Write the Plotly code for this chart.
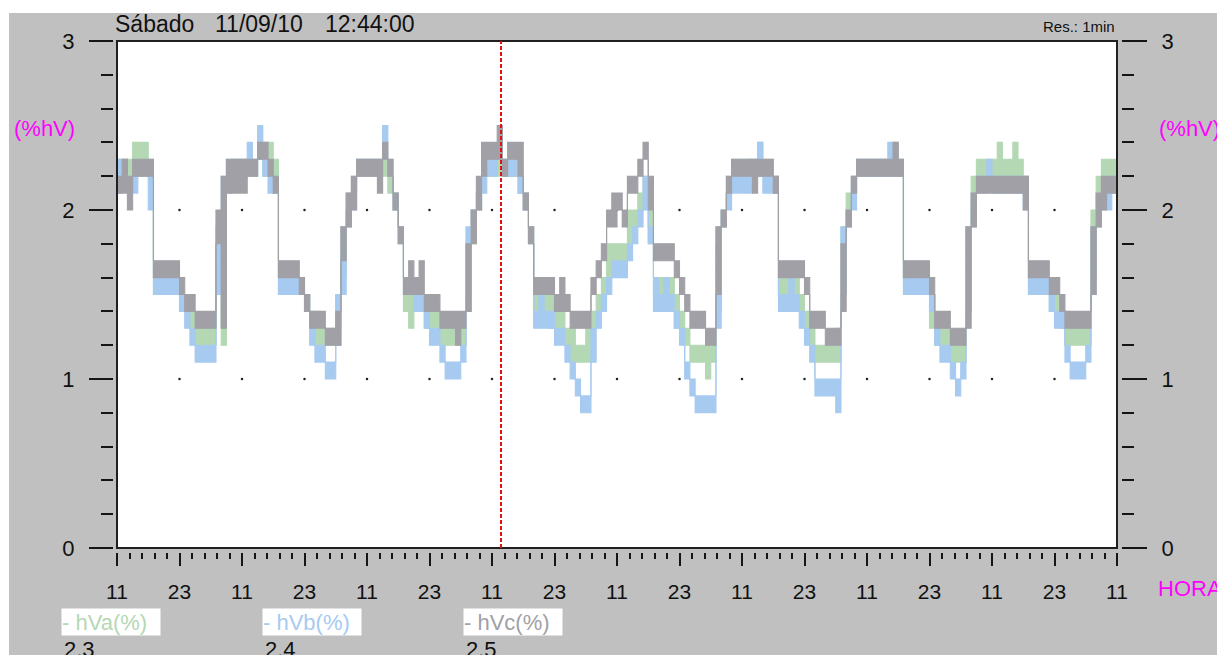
import pandas as pd
import plotly.graph_objects as go

# Time span of the recording (1-minute resolution, summarised per hour as min/max band)
START = "2010-09-08 11:00"
END = "2010-09-16 11:00"
CURSOR = "2010-09-11 12:44"

# Hourly band (lowest / highest value reached in each hour), one row per day, 11:00 -> 10:00
hVa_lo = [
    2.2,2.2,2.2,2.2,2.3,2.3,2.2,1.5,1.5,1.5,1.5,1.5,1.4,1.4,1.3,1.2,1.2,1.2,1.2,1.5,1.2,2.2,2.2,2.2,
    2.2,2.2,2.2,2.3,2.2,2.2,2.2,1.5,1.5,1.5,1.5,1.5,1.4,1.3,1.2,1.2,1.2,1.2,1.3,1.6,2.0,2.1,2.2,2.2,
    2.2,2.2,2.2,2.2,2.1,2.0,1.8,1.4,1.3,1.4,1.4,1.3,1.3,1.3,1.2,1.2,1.2,1.2,1.2,1.5,1.8,2.0,2.2,2.2,
    2.2,2.2,2.2,2.2,2.2,2.1,2.0,1.8,1.4,1.4,1.4,1.3,1.3,1.3,1.2,1.1,1.1,1.1,1.1,1.3,1.4,1.5,1.6,1.7,
    1.7,1.7,1.8,1.9,2.0,2.1,1.8,1.5,1.5,1.5,1.4,1.3,1.3,1.2,1.1,1.1,1.1,1.0,1.1,1.4,1.9,2.1,2.2,2.2,
    2.2,2.2,2.2,2.2,2.2,2.2,2.1,1.5,1.4,1.4,1.5,1.4,1.3,1.2,1.1,1.1,1.1,1.1,1.1,1.5,2.0,2.1,2.2,2.2,
    2.2,2.2,2.2,2.2,2.2,2.2,2.2,1.5,1.5,1.5,1.5,1.5,1.3,1.2,1.2,1.2,1.1,1.1,1.1,1.4,2.0,2.2,2.2,2.2,
    2.2,2.2,2.2,2.2,2.2,2.2,2.1,1.5,1.5,1.5,1.5,1.4,1.4,1.3,1.2,1.2,1.2,1.2,1.2,1.6,2.1,2.2,2.2,2.2,
]
hVa_hi = [
    2.3,2.3,2.3,2.4,2.4,2.4,2.3,1.6,1.6,1.6,1.6,1.6,1.5,1.5,1.4,1.3,1.3,1.3,1.3,1.9,2.0,2.3,2.3,2.3,
    2.3,2.3,2.3,2.4,2.4,2.4,2.3,1.6,1.6,1.6,1.6,1.6,1.5,1.4,1.4,1.3,1.3,1.3,1.5,1.9,2.1,2.2,2.3,2.3,
    2.3,2.3,2.3,2.3,2.2,2.1,1.9,1.6,1.5,1.5,1.5,1.4,1.4,1.4,1.3,1.3,1.3,1.3,1.3,1.8,2.0,2.1,2.3,2.3,
    2.3,2.3,2.3,2.3,2.3,2.2,2.1,1.9,1.5,1.5,1.5,1.5,1.4,1.4,1.3,1.3,1.2,1.2,1.3,1.4,1.5,1.6,1.8,1.8,
    1.8,1.8,2.0,2.0,2.1,2.2,2.0,1.6,1.6,1.6,1.6,1.5,1.4,1.3,1.2,1.2,1.2,1.2,1.2,1.9,2.0,2.2,2.3,2.3,
    2.3,2.3,2.3,2.4,2.3,2.3,2.2,1.6,1.6,1.5,1.6,1.5,1.4,1.3,1.2,1.2,1.2,1.2,1.3,1.9,2.1,2.2,2.3,2.3,
    2.3,2.3,2.3,2.3,2.3,2.4,2.3,1.6,1.6,1.6,1.6,1.6,1.5,1.3,1.3,1.3,1.2,1.2,1.2,1.9,2.2,2.3,2.3,2.3,
    2.3,2.4,2.3,2.3,2.4,2.3,2.2,1.6,1.6,1.6,1.6,1.5,1.5,1.4,1.4,1.3,1.3,1.3,1.3,2.0,2.2,2.3,2.3,2.3,
]
hVb_lo = [
    2.1,2.2,2.1,2.1,2.2,2.2,2.0,1.5,1.5,1.5,1.5,1.5,1.4,1.3,1.2,1.1,1.1,1.1,1.1,1.5,1.9,2.1,2.2,2.2,
    2.2,2.2,2.2,2.3,2.2,2.1,2.1,1.5,1.5,1.5,1.5,1.5,1.4,1.2,1.1,1.1,1.0,1.0,1.2,1.5,1.9,2.0,2.2,2.2,
    2.2,2.2,2.2,2.3,2.2,2.0,1.8,1.5,1.5,1.4,1.4,1.3,1.2,1.2,1.1,1.0,1.0,1.0,1.1,1.4,1.9,2.0,2.1,2.2,
    2.2,2.3,2.2,2.2,2.2,2.1,2.0,1.8,1.3,1.3,1.3,1.3,1.2,1.2,1.1,1.0,0.9,0.8,0.8,1.1,1.3,1.4,1.5,1.6,
    1.6,1.6,1.7,1.8,1.9,2.0,1.8,1.4,1.4,1.4,1.4,1.3,1.2,1.0,0.9,0.8,0.8,0.8,0.8,1.3,1.9,2.0,2.1,2.1,
    2.1,2.1,2.2,2.2,2.1,2.1,2.1,1.4,1.4,1.4,1.4,1.3,1.2,1.1,0.9,0.9,0.9,0.9,0.8,1.5,1.9,2.0,2.2,2.2,
    2.2,2.2,2.2,2.2,2.3,2.2,2.2,1.5,1.5,1.5,1.5,1.5,1.4,1.2,1.1,1.1,1.0,0.9,1.0,1.4,1.9,2.1,2.1,2.2,
    2.1,2.1,2.1,2.1,2.1,2.1,2.0,1.5,1.5,1.5,1.5,1.4,1.3,1.3,1.1,1.0,1.0,1.0,1.1,1.5,1.9,2.0,2.0,2.1,
]
hVb_hi = [
    2.3,2.3,2.2,2.2,2.2,2.2,2.2,1.6,1.6,1.6,1.6,1.6,1.5,1.4,1.3,1.2,1.2,1.2,1.2,1.8,2.2,2.2,2.3,2.3,
    2.3,2.4,2.3,2.5,2.3,2.2,2.2,1.6,1.6,1.6,1.6,1.6,1.5,1.3,1.2,1.2,1.1,1.1,1.5,1.9,2.0,2.1,2.3,2.3,
    2.3,2.3,2.3,2.5,2.3,2.1,1.9,1.6,1.6,1.5,1.5,1.4,1.3,1.3,1.2,1.1,1.1,1.1,1.2,1.9,2.0,2.1,2.2,2.3,
    2.3,2.4,2.3,2.3,2.3,2.2,2.1,1.9,1.4,1.5,1.4,1.4,1.3,1.3,1.2,1.1,1.0,0.9,0.9,1.3,1.4,1.5,1.6,1.7,
    1.7,1.7,1.8,1.9,2.0,2.2,1.9,1.6,1.5,1.6,1.5,1.4,1.3,1.1,1.0,0.9,0.9,0.9,0.9,1.8,2.0,2.1,2.2,2.2,
    2.2,2.3,2.3,2.4,2.2,2.2,2.2,1.5,1.5,1.6,1.5,1.4,1.3,1.2,1.0,1.0,1.0,1.0,1.0,1.9,2.0,2.2,2.3,2.3,
    2.3,2.3,2.3,2.3,2.4,2.3,2.3,1.6,1.6,1.6,1.6,1.6,1.5,1.3,1.2,1.2,1.1,1.0,1.1,1.9,2.1,2.2,2.2,2.3,
    2.2,2.2,2.2,2.2,2.2,2.2,2.2,1.6,1.6,1.6,1.6,1.5,1.4,1.4,1.2,1.1,1.1,1.1,1.2,1.9,2.0,2.1,2.1,2.2,
]
hVc_lo = [
    2.1,2.1,2.0,2.2,2.2,2.2,2.2,1.6,1.6,1.6,1.6,1.6,1.5,1.4,1.4,1.3,1.3,1.3,1.3,1.8,1.3,2.1,2.1,2.1,
    2.1,2.2,2.2,2.3,2.3,2.2,2.1,1.6,1.6,1.6,1.6,1.5,1.4,1.3,1.3,1.3,1.2,1.2,1.2,1.7,1.9,2.0,2.2,2.2,
    2.2,2.2,2.1,2.3,2.2,2.0,1.8,1.5,1.5,1.5,1.5,1.4,1.4,1.4,1.3,1.3,1.3,1.2,1.3,1.4,1.8,2.0,2.2,2.3,
    2.3,2.3,2.2,2.3,2.3,2.2,2.0,1.8,1.5,1.5,1.5,1.5,1.4,1.4,1.4,1.3,1.3,1.3,1.3,1.5,1.6,1.7,1.9,1.9,
    2.0,1.9,2.1,2.1,2.2,2.3,2.0,1.7,1.7,1.7,1.7,1.6,1.5,1.4,1.3,1.3,1.3,1.2,1.2,1.5,1.9,2.1,2.2,2.2,
    2.2,2.2,2.1,2.2,2.2,2.2,2.1,1.6,1.6,1.6,1.6,1.6,1.5,1.3,1.3,1.3,1.2,1.2,1.2,1.4,1.9,2.1,2.2,2.2,
    2.2,2.2,2.2,2.2,2.2,2.2,2.2,1.6,1.6,1.6,1.6,1.6,1.5,1.3,1.3,1.3,1.2,1.2,1.2,1.3,1.9,2.1,2.1,2.1,
    2.1,2.1,2.1,2.1,2.1,2.1,2.0,1.6,1.6,1.6,1.6,1.5,1.5,1.4,1.3,1.3,1.3,1.3,1.3,1.5,1.9,2.0,2.1,2.1,
]
hVc_hi = [
    2.2,2.3,2.2,2.3,2.3,2.3,2.3,1.7,1.7,1.7,1.7,1.7,1.6,1.5,1.5,1.4,1.4,1.4,1.4,2.0,2.2,2.3,2.3,2.3,
    2.3,2.3,2.3,2.4,2.4,2.3,2.2,1.7,1.7,1.7,1.7,1.6,1.5,1.4,1.4,1.4,1.3,1.3,1.4,1.9,2.1,2.2,2.3,2.3,
    2.3,2.3,2.3,2.4,2.3,2.1,1.9,1.6,1.7,1.6,1.7,1.5,1.5,1.5,1.4,1.4,1.4,1.4,1.4,1.8,2.0,2.2,2.4,2.4,
    2.4,2.5,2.3,2.4,2.4,2.4,2.1,1.9,1.6,1.6,1.6,1.6,1.5,1.6,1.5,1.4,1.4,1.4,1.4,1.6,1.7,1.8,2.0,2.1,
    2.1,2.0,2.2,2.2,2.3,2.4,2.2,1.8,1.8,1.8,1.8,1.7,1.6,1.5,1.4,1.4,1.4,1.3,1.3,1.9,2.0,2.2,2.3,2.3,
    2.3,2.3,2.3,2.3,2.3,2.3,2.2,1.7,1.7,1.7,1.7,1.7,1.6,1.4,1.4,1.4,1.3,1.3,1.3,1.8,2.0,2.2,2.3,2.3,
    2.3,2.3,2.3,2.3,2.3,2.4,2.3,1.7,1.7,1.7,1.7,1.7,1.6,1.4,1.4,1.4,1.3,1.3,1.3,1.9,2.1,2.2,2.2,2.2,
    2.2,2.2,2.2,2.2,2.2,2.2,2.2,1.7,1.7,1.7,1.7,1.6,1.6,1.5,1.4,1.4,1.4,1.4,1.4,1.9,2.1,2.2,2.2,2.2,
]

series_names = ["hVa(%)", "hVb(%)", "hVc(%)"]
series_lo = [hVa_lo, hVb_lo, hVc_lo]
series_hi = [hVa_hi, hVb_hi, hVc_hi]
series_colors = ["#b4d8b4", "#a6caf0", "#a0a0a6"]

FONT = "Liberation Sans"
W, H = 1217, 655
ML, MR, MT, MB = 113, 96, 41, 103


def xp(px):
    return (px - ML) / (W - ML - MR)


def yp(py):
    return (H - MB - py) / (H - MT - MB)


times = pd.date_range(START, periods=len(hVa_lo) + 1, freq="h")
t0 = pd.Timestamp(START)
cursor_idx = int((pd.Timestamp(CURSOR) - t0) / pd.Timedelta(hours=1))

fig = go.Figure()

# dotted reference marks at 1 and 2 on every interior 12 h tick
marks = pd.date_range(START, END, freq="12h")[1:-1]
fig.add_trace(go.Scatter(
    x=list(marks) * 2, y=[1] * len(marks) + [2] * len(marks),
    mode="markers", marker=dict(size=2.5, color="#222222"),
    hoverinfo="skip", showlegend=False,
))

for name, lo, hi, color in zip(series_names, series_lo, series_hi, series_colors):
    fig.add_trace(go.Scatter(
        x=times, y=lo + [lo[-1]], mode="lines", name=name,
        line=dict(color=color, width=1.1, shape="hv"), showlegend=False,
    ))
    fig.add_trace(go.Scatter(
        x=times, y=hi + [hi[-1]], mode="lines", name=name,
        line=dict(color=color, width=1.1, shape="hv"),
        fill="tonexty", fillcolor=color, showlegend=False,
    ))

# right-hand axis carrier
fig.add_trace(go.Scatter(x=[times[0]], y=[0], yaxis="y2", mode="markers",
                         marker=dict(size=0.1, opacity=0), hoverinfo="skip", showlegend=False))

tick_common = dict(ticks="outside", tickwidth=2, tickcolor="#151515",
                   showgrid=False, zeroline=False, showline=False)

fig.update_layout(
    width=W, height=H,
    margin=dict(l=ML, r=MR, t=MT, b=MB, pad=0),
    paper_bgcolor="#c0c0c0", plot_bgcolor="white",
    font=dict(family=FONT, color="#111111"),
    xaxis=dict(
        type="date", range=[START, END], domain=[xp(117), xp(1117)],
        anchor="free", position=0,
        tickmode="linear", tick0=START, dtick=12 * 3600 * 1000, tickformat="%H",
        ticklen=13, tickfont=dict(size=21, family=FONT, color="#111111"),
        ticklabelstandoff=8,
        minor=dict(ticks="outside", ticklen=6, tickwidth=2, tickcolor="#151515",
                   tick0=START, dtick=int(2.4 * 3600 * 1000), showgrid=False),
        **tick_common,
    ),
    yaxis=dict(
        range=[0, 3], domain=[yp(548), 1], anchor="free", position=0,
        tickmode="linear", tick0=0, dtick=1, ticklen=24,
        tickfont=dict(size=22, family=FONT, color="#111111"), ticklabelstandoff=10,
        minor=dict(ticks="outside", ticklen=12, tickwidth=2, tickcolor="#151515",
                   dtick=0.2, showgrid=False),
        **tick_common,
    ),
    yaxis2=dict(
        range=[0, 3], overlaying="y", side="right", anchor="free", position=1,
        tickmode="linear", tick0=0, dtick=1, ticklen=25,
        tickfont=dict(size=22, family=FONT, color="#111111"), ticklabelstandoff=10,
        minor=dict(ticks="outside", ticklen=12, tickwidth=2, tickcolor="#151515",
                   dtick=0.2, showgrid=False),
        **tick_common,
    ),
)

shapes = [
    # white page strips at top and left
    dict(type="rect", xref="paper", yref="paper", x0=xp(-20), x1=xp(1240),
         y0=yp(13), y1=yp(-20), fillcolor="white", line=dict(width=0), layer="above"),
    dict(type="rect", xref="paper", yref="paper", x0=xp(-20), x1=xp(9),
         y0=yp(680), y1=yp(-20), fillcolor="white", line=dict(width=0), layer="above"),
    # plot frame
    dict(type="rect", xref="x domain", yref="y domain", x0=0, x1=1, y0=0, y1=1,
         line=dict(color="#202020", width=2), layer="above"),
    # cursor
    dict(type="line", xref="x", yref="y domain", x0=CURSOR, x1=CURSOR, y0=0, y1=1,
         line=dict(color="#e01010", width=2, dash="4px,2px"), layer="above"),
]
fig.update_layout(shapes=shapes)

ann = []


def text(px, py, s, size=22, color="#111111", xanchor="left", yanchor="middle", **kw):
    ann.append(dict(xref="paper", yref="paper", x=xp(px), y=yp(py), text=s,
                    showarrow=False, xanchor=xanchor, yanchor=yanchor,
                    font=dict(family=FONT, size=size, color=color), **kw))


text(113, 24, "Sábado", size=23)
text(213, 24, "11/09/10", size=23)
text(323, 24, "12:44:00", size=23)
text(1117, 27, "Res.: 1min", size=15, xanchor="right")
text(77, 128, "(%hV)", color="#ff00ff", xanchor="right")
text(1157, 128, "(%hV)", color="#ff00ff")
text(1156, 588, "HORA", color="#ff00ff")

# channel legend with the value of each channel at the cursor time
legend_x = [61, 262, 463]
for lx, name, hi, color in zip(legend_x, series_names, series_hi, series_colors):
    text(lx, 622, "- " + name, size=22, color=color, bgcolor="white",
         width=98, height=26, align="left", borderpad=0)
    text(lx + 1, 635, f"{hi[cursor_idx]:.1f}", size=22, yanchor="top")

fig.update_layout(annotations=ann)

fig.write_html("out.html")
